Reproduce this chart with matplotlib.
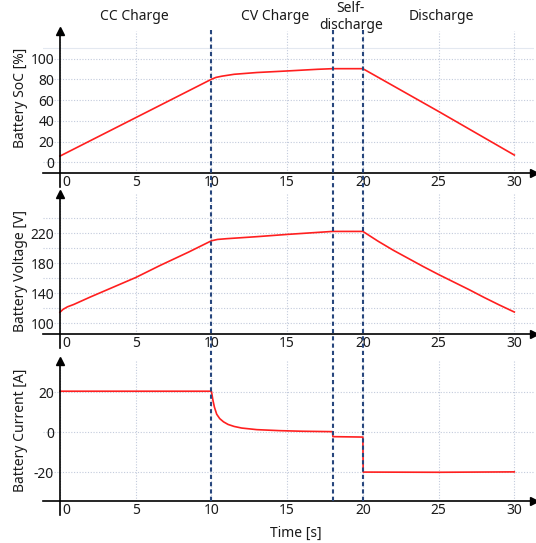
import matplotlib
matplotlib.use("Agg")
import matplotlib.pyplot as plt
import matplotlib.transforms as mtransforms
from matplotlib.lines import Line2D

plt.rcParams['font.family'] = ['Noto Sans', 'DejaVu Sans']

# ---------------- data ----------------
soc_t = [0, 10, 10.3, 10.7, 11.5, 13, 15, 17, 18, 20, 25, 30]
soc_v = [6, 80, 81.8, 83, 84.8, 86.5, 88, 89.6, 90.2, 90.2, 49, 7]

volt_t = [0, 0.2, 0.5, 0.9, 2, 3.5, 5, 6.6, 8.5, 10, 10.4, 11, 13, 15, 18, 20,
          21, 22, 23, 24, 25, 26, 27, 28, 29, 30]
volt_v = [114.7, 118.5, 122, 125, 135, 148, 161, 177, 195, 210, 211.8, 212.8, 215.5, 218.5, 222.5, 222.5,
          209.5, 197.5, 186.5, 175.5, 165, 155, 145, 134.5, 124.5, 115]

cur_t = [0, 10, 10.1, 10.2, 10.35, 10.55, 10.8, 11.1, 11.5, 12, 13, 14.5, 16, 18, 18.02, 20, 20.02, 25, 30]
cur_v = [20.5, 20.5, 16, 12.5, 9, 6.8, 5.2, 3.9, 2.9, 2.1, 1.3, 0.8, 0.5, 0.3, -2.2, -2.4, -19.9, -20.0, -19.8]

phase_bounds = [10, 18, 20]
phase_labels = ["CC Charge", "CV Charge", "Self-\ndischarge", "Discharge"]
phase_label_t = [4.9, 14.2, 19.2, 25.2]

x_ticks = [0, 5, 10, 15, 20, 25, 30]
soc_ticks = [0, 20, 40, 60, 80, 100]
volt_ticks = [100, 140, 180, 220]
volt_minor = [120, 160, 200, 240]
cur_ticks = [-20, 0, 20]

# ---------------- figure ----------------
W, H = 536, 543
fig = plt.figure(figsize=(W / 100, H / 100), dpi=100)

XL = (-1.12, 31.3)
left = 43 / W
width = (534 - 43) / W

def px_rect(top_px, bot_px):
    return [left, 1 - bot_px / H, width, (bot_px - top_px) / H]

ax1 = fig.add_axes(px_rect(31, 172.7))
ax2 = fig.add_axes(px_rect(194, 334.3))
ax3 = fig.add_axes(px_rect(361, 500.7))

RED = '#ff1f1f'
GRID = '#c3cbdc'
NAVY = '#27467d'
TXT = '#1a1a1a'

panels = [
    (ax1, soc_t, soc_v, (-10, 126.5), soc_ticks, [], "Battery SoC [%]", 0.8195),
    (ax2, volt_t, volt_v, (85.3, 272.4), volt_ticks, volt_minor, "Battery Voltage [V]", 0.5009),
    (ax3, cur_t, cur_v, (-34.2, 35.6), cur_ticks, [], "Battery Current [A]", 0.2081),
]

for ax, tx, yv, ylim, yt, ymin, lab, ylab_y in panels:
    ax.set_xlim(*XL)
    ax.set_ylim(*ylim)
    ax.plot(tx, yv, color=RED, lw=1.2, zorder=5)
    ax.set_xticks(x_ticks, [str(v) for v in x_ticks])
    ax.set_yticks(yt, [str(v) for v in yt])
    if ymin:
        ax.set_yticks(ymin, minor=True)
    ax.tick_params(axis='both', which='both', length=0, labelsize=10, colors=TXT)
    ax.tick_params(axis='x', pad=1.5)
    # labels' right edge ~6 px left of the spine at x=0 (axes edge is 17 px left of it)
    ax.tick_params(axis='y', pad=-8)
    for sp in ['top', 'right', 'left']:
        ax.spines[sp].set_visible(False)
    ax.spines['bottom'].set_linewidth(1.2)
    ax.spines['bottom'].set_color('black')
    ax.grid(True, which='both', color=GRID, linestyle=(0, (1, 1.5)), linewidth=0.8)
    ax.set_axisbelow(True)
    h_px = ax.get_position().height * H
    trans = mtransforms.blended_transform_factory(ax.transData, ax.transAxes)
    ax.plot([0, 0], [-14 / h_px, 1], color='black', lw=1.2, transform=trans, clip_on=False, zorder=6)
    ax.plot([0], [1], marker='^', color='black', markersize=6, transform=trans, clip_on=False, zorder=7)
    ax.plot([1], [0], marker='>', color='black', markersize=6, transform=ax.transAxes, clip_on=False, zorder=7)
    for tl in ax.get_xticklabels():
        if tl.get_text() == '0':
            tl.set_ha('left')
            tl.set_transform(tl.get_transform() + mtransforms.ScaledTranslation(2 / 100, 0, fig.dpi_scale_trans))
    fig.text(20.6 / W, ylab_y, lab, rotation=90, ha='center', va='center', fontsize=10, color=TXT)

ax1.axhline(110, color='#e3e8f0', lw=0.8, zorder=0)

# phase boundary lines spanning all panels
btrans = mtransforms.blended_transform_factory(ax3.transData, fig.transFigure)
for b in phase_bounds:
    fig.add_artist(Line2D([b, b], [1 - 30 / H, 1 - 500.7 / H], transform=btrans,
                          color=NAVY, lw=1.5, linestyle=(0, (2, 1.5)), zorder=8))

for lbl, t in zip(phase_labels, phase_label_t):
    fig.text(t, 1 - 17 / H, lbl, transform=btrans, ha='center', va='center',
             fontsize=10, color=TXT, linespacing=1.15)

fig.text(296 / W, 1 - 533 / H, "Time [s]", ha='center', va='center', fontsize=10, color=TXT)

fig.savefig("out.png", dpi=100)
